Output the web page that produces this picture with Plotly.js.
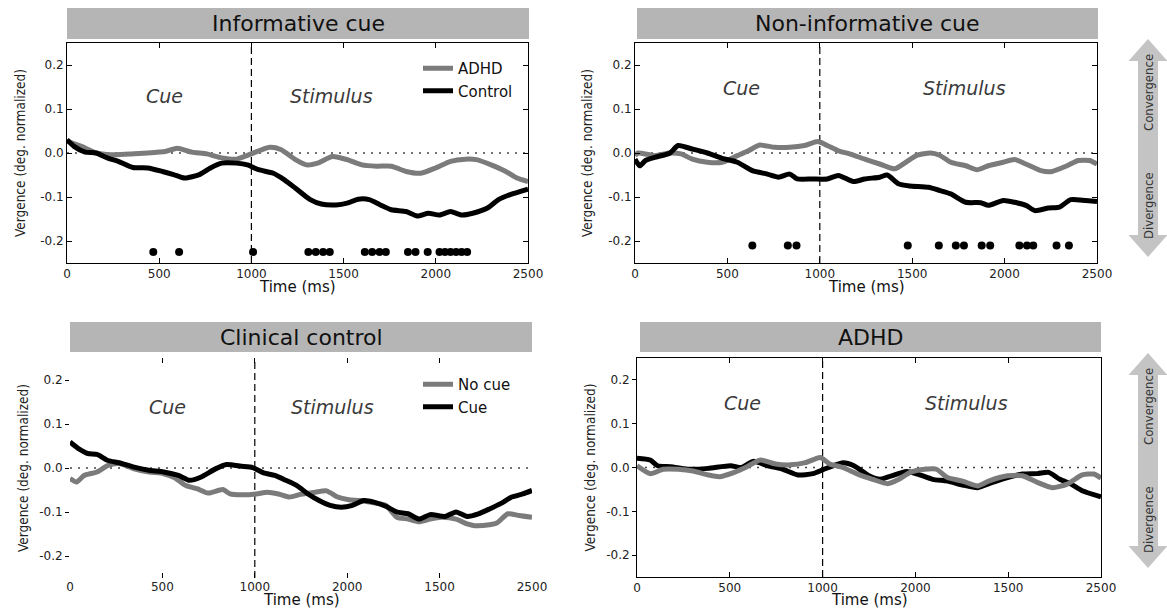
<!DOCTYPE html>
<html>
<head>
<meta charset="utf-8">
<script src="https://cdn.plot.ly/plotly-3.0.1.min.js"></script>
<style>html,body{margin:0;padding:0;background:#fff;}#chart{width:1167px;height:610px;}</style>
</head>
<body>
<div id="chart"></div>
<script>
// ---------- DATA ----------
const panelTitles = ["Informative cue", "Non-informative cue", "Clinical control", "ADHD"];
const xTickVals = [0, 500, 1000, 1500, 2000, 2500];
const xTickTextTop = ["0", "500", "1000", "1500", "2000", "2500"];
const xTickTextBottom = ["0", "500", "1000", "2000", "1500", "2500"];
const yTickVals = [-0.2, -0.1, 0, 0.1, 0.2];
const yTickText = ["-0.2", "-0.1", "0.0", "0.1", "0.2"];

// Panel 1: Informative cue
const infoAdhdT = [0,78,158,238,338,438,538,598,678,758,839,919,999,1099,1159,1239,1299,1359,1439,1519,1599,1679,1759,1839,1919,1999,2080,2160,2220,2300,2380,2440,2500];
const infoAdhdV = [0.027,0.015,0.0,-0.004,-0.002,0.0,0.004,0.011,0.002,-0.002,-0.011,-0.014,-0.002,0.013,0.008,-0.015,-0.027,-0.023,-0.008,-0.015,-0.027,-0.030,-0.030,-0.042,-0.046,-0.034,-0.019,-0.014,-0.015,-0.027,-0.042,-0.057,-0.065];
const infoCtrlT = [0,38,98,158,218,278,358,438,518,578,638,718,778,839,919,979,1039,1119,1179,1239,1319,1379,1459,1519,1579,1639,1699,1759,1839,1899,1960,2020,2080,2140,2200,2280,2340,2400,2460,2500];
const infoCtrlV = [0.030,0.015,0.002,0.0,-0.011,-0.019,-0.033,-0.034,-0.042,-0.049,-0.057,-0.049,-0.034,-0.023,-0.023,-0.027,-0.038,-0.046,-0.061,-0.080,-0.106,-0.116,-0.118,-0.114,-0.105,-0.106,-0.118,-0.129,-0.133,-0.143,-0.137,-0.141,-0.133,-0.141,-0.137,-0.125,-0.106,-0.095,-0.087,-0.082];
const infoSigT = [468,608,1009,1309,1349,1389,1425,1615,1655,1695,1729,1849,1890,1956,2020,2050,2080,2110,2140,2170];
const infoSigV = [-0.225,-0.225,-0.225,-0.225,-0.225,-0.225,-0.225,-0.225,-0.225,-0.225,-0.225,-0.225,-0.225,-0.225,-0.225,-0.225,-0.225,-0.225,-0.225,-0.225];

// Panel 2: Non-informative cue
const nonAdhdT = [0,16,107,189,249,310,391,472,554,614,675,756,837,918,989,1040,1101,1162,1243,1324,1405,1466,1527,1598,1648,1709,1790,1851,1912,1993,2054,2115,2196,2257,2338,2399,2460,2500];
const nonAdhdV = [-0.006,0.0,-0.006,0.0,-0.002,-0.014,-0.021,-0.021,-0.006,0.005,0.018,0.013,0.013,0.017,0.026,0.017,0.005,-0.002,-0.014,-0.025,-0.036,-0.021,-0.005,0.0,-0.005,-0.021,-0.029,-0.038,-0.029,-0.021,-0.015,-0.025,-0.040,-0.042,-0.029,-0.017,-0.017,-0.025];
const nonCtrlT = [0,26,57,107,189,233,310,391,472,554,635,716,777,837,878,959,1040,1101,1182,1243,1324,1365,1425,1486,1588,1648,1709,1790,1871,1912,1993,2054,2115,2165,2237,2297,2358,2439,2500];
const nonCtrlV = [-0.014,-0.029,-0.017,-0.010,0.0,0.017,0.009,0.0,-0.012,-0.021,-0.040,-0.048,-0.055,-0.048,-0.059,-0.059,-0.059,-0.051,-0.065,-0.059,-0.055,-0.050,-0.070,-0.075,-0.078,-0.085,-0.093,-0.112,-0.113,-0.119,-0.108,-0.112,-0.119,-0.131,-0.125,-0.123,-0.106,-0.108,-0.110];
const nonSigT = [635,827,874,1476,1644,1736,1780,1876,1922,2080,2121,2155,2281,2348];
const nonSigV = [-0.21,-0.21,-0.21,-0.21,-0.21,-0.21,-0.21,-0.21,-0.21,-0.21,-0.21,-0.21,-0.21,-0.21];

// Panel 3: Clinical control
const clinNoCueT = [0,36,76,146,206,266,347,427,507,567,627,687,747,827,867,927,1008,1068,1128,1188,1248,1328,1388,1448,1508,1568,1629,1709,1769,1829,1889,1949,2009,2089,2149,2189,2270,2310,2370,2430,2500];
const clinNoCueV = [-0.024,-0.032,-0.017,-0.009,0.006,0.010,-0.002,-0.009,-0.013,-0.022,-0.040,-0.047,-0.057,-0.049,-0.059,-0.061,-0.059,-0.055,-0.059,-0.066,-0.060,-0.055,-0.052,-0.066,-0.072,-0.074,-0.078,-0.085,-0.112,-0.116,-0.122,-0.116,-0.112,-0.116,-0.127,-0.131,-0.129,-0.125,-0.104,-0.108,-0.112];
const clinCueT = [0,46,96,146,206,266,347,427,507,587,647,707,787,847,927,988,1048,1108,1168,1228,1288,1348,1408,1468,1528,1589,1649,1709,1769,1829,1889,1949,2029,2089,2149,2210,2270,2330,2390,2450,2500];
const clinCueV = [0.059,0.044,0.033,0.031,0.017,0.012,0.002,-0.005,-0.009,-0.017,-0.028,-0.021,-0.002,0.008,0.004,0.001,-0.011,-0.017,-0.028,-0.040,-0.059,-0.074,-0.085,-0.089,-0.085,-0.074,-0.078,-0.087,-0.100,-0.104,-0.116,-0.106,-0.110,-0.100,-0.110,-0.104,-0.093,-0.081,-0.066,-0.059,-0.051];

// Panel 4: ADHD
const adhdCueT = [0,71,111,181,282,383,504,564,625,706,786,867,948,1008,1109,1169,1250,1310,1371,1452,1512,1593,1673,1754,1835,1915,1996,2077,2157,2218,2278,2339,2399,2500];
const adhdCueV = [0.021,0.017,0.004,0.002,-0.004,-0.002,0.004,0.0,0.014,0.004,-0.004,-0.017,-0.014,-0.004,0.011,0.004,-0.019,-0.027,-0.019,-0.009,-0.015,-0.027,-0.031,-0.040,-0.046,-0.034,-0.023,-0.015,-0.014,-0.011,-0.027,-0.038,-0.053,-0.067];
const adhdNoCueT = [0,71,141,222,302,383,444,524,585,665,746,827,907,988,1038,1109,1189,1270,1351,1411,1472,1552,1613,1673,1754,1835,1895,1996,2077,2157,2238,2318,2399,2460,2500];
const adhdNoCueV = [0.004,-0.014,-0.004,-0.004,-0.008,-0.017,-0.021,-0.011,0.0,0.017,0.008,0.006,0.011,0.023,0.008,0.0,-0.015,-0.027,-0.037,-0.027,-0.011,-0.004,-0.004,-0.023,-0.031,-0.042,-0.031,-0.019,-0.019,-0.034,-0.046,-0.038,-0.017,-0.015,-0.024];

// ---------- STYLE / LAYOUT ----------
const W = 1167, H = 610;
const GRAY = "#7b7b7b", BLACK = "#000000";
const LW = 5;
const fx = p => p / W;
const fy = p => 1 - p / H;

const sans = "DejaVu Sans, Verdana, sans-serif";
const tickFont = {family: sans, size: 12, color: "#222"};
const narrow = "Liberation Sans Narrow, DejaVu Sans Condensed, Liberation Sans, sans-serif";

function line(x, y, color, xa, ya, name, legend, show) {
  return {type: "scatter", mode: "lines", x: x, y: y, name: name, xaxis: xa, yaxis: ya,
    line: {color: color, width: LW, shape: "spline", smoothing: 0.6},
    showlegend: !!show, legend: legend, hoverinfo: "skip"};
}
function dots(x, y, xa, ya) {
  return {type: "scatter", mode: "markers", x: x, y: y, xaxis: xa, yaxis: ya,
    marker: {color: BLACK, size: 8}, showlegend: false, hoverinfo: "skip"};
}

const data = [
  line(infoAdhdT, infoAdhdV, GRAY, "x", "y", "ADHD", "legend", true),
  line(infoCtrlT, infoCtrlV, BLACK, "x", "y", "Control", "legend", true),
  dots(infoSigT, infoSigV, "x", "y"),
  line(nonAdhdT, nonAdhdV, GRAY, "x2", "y2", "ADHD", "legend", false),
  line(nonCtrlT, nonCtrlV, BLACK, "x2", "y2", "Control", "legend", false),
  dots(nonSigT, nonSigV, "x2", "y2"),
  line(clinNoCueT, clinNoCueV, GRAY, "x3", "y3", "No cue", "legend2", true),
  line(clinCueT, clinCueV, BLACK, "x3", "y3", "Cue", "legend2", true),
  line(adhdCueT, adhdCueV, BLACK, "x4", "y4", "Cue", "legend2", false),
  line(adhdNoCueT, adhdNoCueV, GRAY, "x4", "y4", "No cue", "legend2", false)
];

// pixel boxes of each plot area [left, right, top, bottom]
const boxes = [[67, 528, 43, 263], [635, 1097, 43, 263], [70, 532, 358, 578], [637, 1101, 358, 577]];
const barY = [[8, 39], [8, 39], [322, 352], [322, 352]];
const barX = [[67, 529], [637, 1098], [70, 532], [640, 1101]];

function xax(i, extra) {
  const b = boxes[i];
  return Object.assign({domain: [fx(b[0]), fx(b[1])], range: [0, 2500], tickvals: xTickVals,
    ticktext: i < 2 ? xTickTextTop : xTickTextBottom, tickfont: tickFont, showgrid: false, zeroline: false,
    ticks: "inside", ticklen: 5, tickcolor: "#000", showline: true, linecolor: "#000", linewidth: 1,
    mirror: "ticks", anchor: "y" + (i === 0 ? "" : i + 1), fixedrange: true}, extra || {});
}
function yax(i, extra) {
  const b = boxes[i];
  return Object.assign({domain: [fy(b[3]), fy(b[2])], range: [-0.25, 0.25], tickvals: yTickVals,
    ticktext: yTickText, tickfont: tickFont, showgrid: false, zeroline: false,
    ticks: "inside", ticklen: 5, tickcolor: "#000", showline: true, linecolor: "#000", linewidth: 1,
    mirror: "ticks", anchor: "x" + (i === 0 ? "" : i + 1), fixedrange: true}, extra || {});
}

const shapes = [], annotations = [];
const xrefs = ["x", "x2", "x3", "x4"], yrefs = ["y", "y2", "y3", "y4"];
for (let i = 0; i < 4; i++) {
  shapes.push({type: "rect", xref: "paper", yref: "paper", x0: fx(barX[i][0]), x1: fx(barX[i][1]),
    y0: fy(barY[i][1]), y1: fy(barY[i][0]), fillcolor: "#b5b5b5", line: {width: 0}, layer: "below"});
  annotations.push({xref: "paper", yref: "paper", x: fx((barX[i][0] + barX[i][1]) / 2), y: fy((barY[i][0] + barY[i][1]) / 2),
    text: panelTitles[i], showarrow: false, xanchor: "center", yanchor: "middle",
    font: {family: sans, size: 22, color: "#111"}});
  shapes.push({type: "line", xref: xrefs[i] + " domain", yref: yrefs[i], x0: 0, x1: 1, y0: 0, y1: 0,
    line: {color: "#444", width: 1.5, dash: "2px,6px"}, layer: "below"});
  shapes.push({type: "line", xref: xrefs[i], yref: yrefs[i] + " domain", x0: 1000, x1: 1000, y0: 0, y1: 1,
    line: {color: "#000", width: 1.2, dash: "7px,4px"}, layer: "below"});
  const b = boxes[i];
  annotations.push({xref: "paper", yref: "paper", x: fx(i % 2 === 0 ? b[0] - 47 : b[0] - 48), y: fy((b[2] + b[3]) / 2),
    text: "Vergence (deg. normalized)", textangle: -90, showarrow: false, xanchor: "center", yanchor: "middle",
    font: {family: narrow, size: 13.5, color: "#222"}});
  annotations.push({xref: "paper", yref: "paper", x: fx((b[0] + b[1]) / 2), y: fy(i < 2 ? 287 : 600),
    text: "Time (ms)", showarrow: false, xanchor: "center", yanchor: "middle",
    font: {family: sans, size: 15, color: "#111"}});
}
const cuePos = [[531, 1432, 0.13], [574, 1781, 0.148], [525, 1423, 0.139], [571, 1773, 0.148]];
for (let i = 0; i < 4; i++) {
  const c = cuePos[i];
  const f = {family: sans, size: 19, color: "#3a3a3a", style: "italic"};
  annotations.push({xref: xrefs[i], yref: yrefs[i], x: c[0], y: c[2], text: "<i>Cue</i>", showarrow: false,
    xanchor: "center", yanchor: "middle", font: f});
  annotations.push({xref: xrefs[i], yref: yrefs[i], x: c[1], y: c[2], text: "<i>Stimulus</i>", showarrow: false,
    xanchor: "center", yanchor: "middle", font: f});
}
// double arrows on the right
function arrowPath(top, bot) {
  const cx = 1148, hw = 19.5, sw = 10, hl = 22;
  const P = (x, y) => fx(x).toFixed(5) + "," + fy(y).toFixed(5);
  return "M" + P(cx, top) + " L" + P(cx + hw, top + hl) + " L" + P(cx + sw, top + hl) + " L" + P(cx + sw, bot - hl) +
    " L" + P(cx + hw, bot - hl) + " L" + P(cx, bot) + " L" + P(cx - hw, bot - hl) + " L" + P(cx - sw, bot - hl) +
    " L" + P(cx - sw, top + hl) + " L" + P(cx - hw, top + hl) + " Z";
}
[[39, 257, 93, 206], [353, 568, 407, 520]].forEach(a => {
  shapes.push({type: "path", xref: "paper", yref: "paper", path: arrowPath(a[0], a[1]), fillcolor: "#c4c4c4", line: {width: 0}});
  annotations.push({xref: "paper", yref: "paper", x: fx(1148), y: fy(a[2]), text: "Convergence", textangle: -90, showarrow: false,
    xanchor: "center", yanchor: "middle", font: {family: narrow, size: 13, color: "#333"}});
  annotations.push({xref: "paper", yref: "paper", x: fx(1148), y: fy(a[3]), text: "Divergence", textangle: -90, showarrow: false,
    xanchor: "center", yanchor: "middle", font: {family: narrow, size: 13, color: "#333"}});
});

const legendFont = {family: sans, size: 15, color: "#111"};
const layout = {
  width: W, height: H, margin: {l: 0, r: 0, t: 0, b: 0}, paper_bgcolor: "#fff", plot_bgcolor: "rgba(0,0,0,0)",
  showlegend: true,
  legend: {x: fx(418), y: fy(52), xanchor: "left", yanchor: "top", bgcolor: "rgba(0,0,0,0)", borderwidth: 0,
    font: legendFont, tracegroupgap: 0, itemclick: false, itemdoubleclick: false},
  legend2: {x: fx(418), y: fy(368), xanchor: "left", yanchor: "top", bgcolor: "rgba(0,0,0,0)", borderwidth: 0,
    font: legendFont, tracegroupgap: 0, itemclick: false, itemdoubleclick: false},
  xaxis: xax(0), yaxis: yax(0),
  xaxis2: xax(1), yaxis2: yax(1),
  xaxis3: xax(2, {showline: false, ticks: "inside", ticklen: 5}),
  yaxis3: yax(2, {showline: false, ticks: "outside", ticklen: 4, mirror: false}),
  xaxis4: xax(3),
  yaxis4: yax(3, {ticks: "outside", ticklen: 4, mirror: true}),
  yaxis5: {overlaying: "y3", side: "right", anchor: "x3", range: [-0.25, 0.25], tickvals: yTickVals, showticklabels: false,
    ticks: "inside", ticklen: 5, tickcolor: "#000", showline: true, linecolor: "#000", linewidth: 1.5, showgrid: false, zeroline: false, fixedrange: true},
  yaxis6: {overlaying: "y4", side: "right", anchor: "x4", range: [-0.25, 0.25], tickvals: yTickVals, showticklabels: false,
    ticks: "inside", ticklen: 5, tickcolor: "#000", showline: false, showgrid: false, zeroline: false, fixedrange: true},
  shapes: shapes, annotations: annotations
};
Plotly.newPlot("chart", data, layout, {staticPlot: true, displayModeBar: false});
</script>
</body>
</html>
